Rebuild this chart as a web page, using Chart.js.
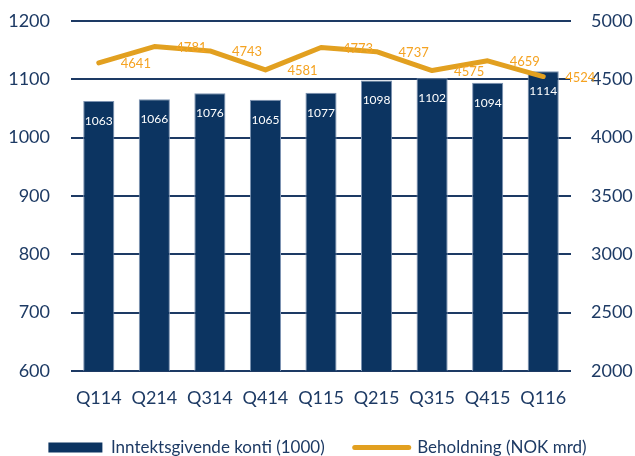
<!DOCTYPE html>
<html>
<head>
<meta charset="utf-8">
<script src="https://cdn.jsdelivr.net/npm/chart.js@4/dist/chart.umd.min.js"></script>
<style>
  html, body { margin: 0; padding: 0; background: #fff; }
  canvas { display: block; }
</style>
</head>
<body>
<canvas id="chart" width="635" height="456"></canvas>
<script>
/* ── Data ─────────────────────────────────────────────────────── */
var quarters = ['Q114', 'Q214', 'Q314', 'Q414', 'Q115', 'Q215', 'Q315', 'Q415', 'Q116'];
var kontiValues = [1063, 1066, 1076, 1065, 1077, 1098, 1102, 1094, 1114];
var beholdningValues = [4641, 4781, 4743, 4581, 4773, 4737, 4575, 4659, 4524];
var leftTicks = [600, 700, 800, 900, 1000, 1100, 1200];
var rightTicks = [2000, 2500, 3000, 3500, 4000, 4500, 5000];

/* ── Colours / fonts ──────────────────────────────────────────── */
var NAVY = '#0c3461';
var TEXT = '#1d3a64';
var GRID = '#1d3a64';
var GOLD = '#e2a020';
var GOLD_TEXT = '#f5a322';
var FONT = "Lato, 'Open Sans', sans-serif";

Chart.defaults.font.family = FONT;
Chart.defaults.color = TEXT;

/* ── Value labels drawn from element positions ────────────────── */
var valueLabels = {
  id: 'valueLabels',
  afterDatasetsDraw: function(chart) {
    var ctx = chart.ctx;
    ctx.save();
    chart.data.datasets.forEach(function(ds, i) {
      var meta = chart.getDatasetMeta(i);
      meta.data.forEach(function(el, j) {
        var v = ds.data[j];
        if (meta.type === 'bar') {
          ctx.font = "12px " + FONT;
          ctx.fillStyle = '#ffffff';
          ctx.textAlign = 'center';
          ctx.textBaseline = 'middle';
          ctx.fillText(String(v), el.x, el.y + 20);
        } else {
          ctx.font = "13px " + FONT;
          ctx.fillStyle = GOLD_TEXT;
          ctx.textAlign = 'left';
          ctx.textBaseline = 'middle';
          ctx.fillText(String(v), el.x + 22, el.y + 1);
        }
      });
    });
    ctx.restore();
  }
};

function fixedTicks(list) {
  return function(scale) {
    scale.ticks = list.map(function(v) { return { value: v }; });
  };
}

function plain(v) { return String(v); }

// fixed axis widths so the plot area lines up with the reference
function fitWidth(w) {
  return function(s) {
    s.width = w;
    s.paddingTop = 0;
    s.paddingBottom = 0;
  };
}

new Chart(document.getElementById('chart'), {
  data: {
    labels: quarters,
    datasets: [{
      type: 'bar',
      label: 'Inntektsgivende konti (1000)',
      data: kontiValues,
      yAxisID: 'y',
      backgroundColor: NAVY,
      borderColor: '#7d93b2',
      borderWidth: 1,
      barPercentage: 0.56,
      categoryPercentage: 1,
      order: 2
    }, {
      type: 'line',
      label: 'Beholdning (NOK mrd)',
      data: beholdningValues,
      yAxisID: 'y1',
      borderColor: GOLD,
      backgroundColor: GOLD,
      borderWidth: 5,
      borderCapStyle: 'round',
      borderJoinStyle: 'round',
      pointRadius: 0,
      tension: 0,
      order: 1
    }]
  },
  options: {
    responsive: false,
    animation: false,
    layout: { padding: { top: 21, left: 0, right: 0, bottom: 0 } },
    scales: {
      x: {
        grid: { display: false, drawTicks: false },
        border: { display: false },
        ticks: { font: { size: 18 }, color: TEXT, padding: 16, maxRotation: 0 },
        afterFit: function(s) { s.height = 38; }
      },
      y: {
        position: 'left',
        min: 600, max: 1200,
        afterBuildTicks: fixedTicks(leftTicks),
        grid: { color: GRID, lineWidth: 2, drawTicks: false },
        border: { display: false },
        ticks: { font: { size: 18 }, color: TEXT, padding: 21, callback: plain },
        afterFit: fitWidth(71)
      },
      y1: {
        position: 'right',
        min: 2000, max: 5000,
        afterBuildTicks: fixedTicks(rightTicks),
        grid: { display: false, drawTicks: false },
        border: { display: false },
        ticks: { font: { size: 18 }, color: TEXT, padding: 20, callback: plain },
        afterFit: fitWidth(64)
      }
    },
    plugins: {
      tooltip: { enabled: false },
      legend: {
        position: 'bottom',
        maxHeight: 47,
        labels: {
          font: { size: 17 },
          color: TEXT,
          padding: 30,
          usePointStyle: true,
          pointStyleWidth: 54,
          boxHeight: 10,
          sort: function(a, b) { return a.datasetIndex - b.datasetIndex; },
          generateLabels: function(chart) {
            var items = Chart.defaults.plugins.legend.labels.generateLabels(chart);
            items.forEach(function(it) {
              if (it.datasetIndex === 0) {
                it.pointStyle = 'rect';
                it.fillStyle = NAVY;
                it.strokeStyle = NAVY;
                it.lineWidth = 0;
              } else {
                it.pointStyle = 'line';
                it.strokeStyle = GOLD;
                it.lineWidth = 5;
                it.lineCap = 'round';
              }
            });
            return items;
          }
        }
      }
    }
  },
  plugins: [valueLabels]
});
</script>
</body>
</html>
